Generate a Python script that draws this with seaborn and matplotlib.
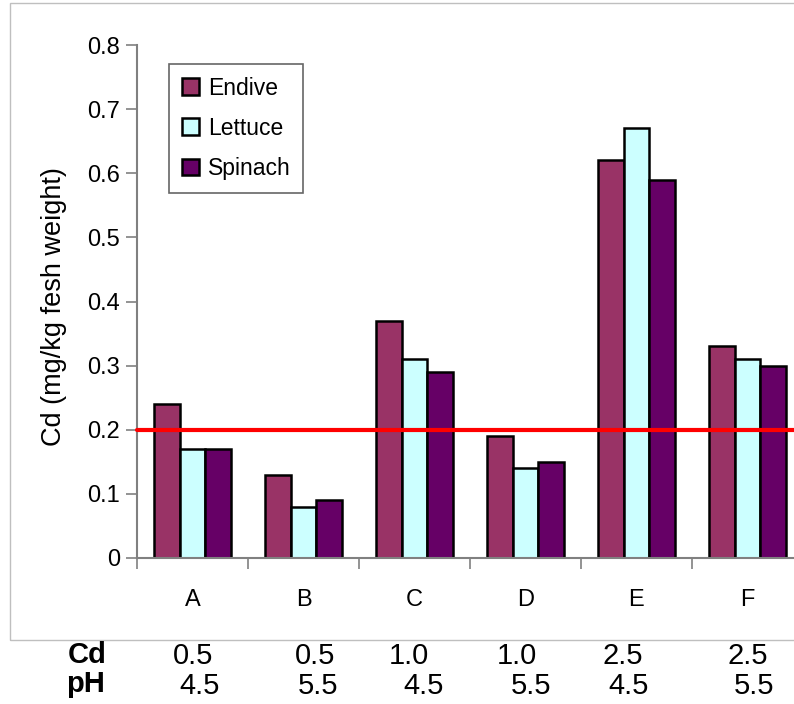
import matplotlib
matplotlib.use("Agg")
import matplotlib.pyplot as plt
import seaborn as sns
import pandas as pd
from matplotlib.patches import Rectangle, Patch

categories = ["A", "B", "C", "D", "E", "F"]
endive = [0.24, 0.13, 0.37, 0.19, 0.62, 0.33]
lettuce = [0.17, 0.08, 0.31, 0.14, 0.67, 0.31]
spinach = [0.17, 0.09, 0.29, 0.15, 0.59, 0.30]
series_names = ["Endive", "Lettuce", "Spinach"]
colors = ["#993366", "#CCFFFF", "#660066"]
threshold = 0.2
cd_values = ["0.5", "0.5", "1.0", "1.0", "2.5", "2.5"]
ph_values = ["4.5", "5.5", "4.5", "5.5", "4.5", "5.5"]
yticks = [0, 0.1, 0.2, 0.3, 0.4, 0.5, 0.6, 0.7, 0.8]
ytick_labels = ["0", "0.1", "0.2", "0.3", "0.4", "0.5", "0.6", "0.7", "0.8"]

rows = []
for name, vals in zip(series_names, [endive, lettuce, spinach]):
    for c, v in zip(categories, vals):
        rows.append({"cat": c, "series": name, "value": v})
df = pd.DataFrame(rows)

sns.set_style("white")
plt.rcParams["font.family"] = ["Liberation Sans", "DejaVu Sans"]
plt.rcParams["text.color"] = "black"
plt.rcParams["axes.labelcolor"] = "black"
plt.rcParams["xtick.color"] = "black"
plt.rcParams["ytick.color"] = "black"

fig = plt.figure(figsize=(7.94, 7.04), dpi=100)
W, H = 794, 704
# outer frame
fig.patches.append(Rectangle((10 / W, 1 - 640 / H), 900 / W, (640 - 3) / H,
                             transform=fig.transFigure, fill=False,
                             edgecolor="#BFBFBF", linewidth=1.0))

left, right, top, bottom = 137, 803, 45, 558
ax = fig.add_axes([left / W, 1 - bottom / H, (right - left) / W, (bottom - top) / H])

sns.barplot(data=df, x="cat", y="value", hue="series", palette=colors,
            width=0.7, gap=0, edgecolor="black", linewidth=1.8,
            saturation=1, ax=ax, legend=False)

ax.axhline(threshold, color="#FF0000", linewidth=3, zorder=5, clip_on=False)

ax.set_xlim(-0.5, 5.5)
ax.set_ylim(0, 0.8)
ax.set_yticks(yticks)
ax.set_yticklabels(ytick_labels, fontsize=17)
ax.set_xticks(range(len(categories)))
ax.set_xticklabels(categories, fontsize=17)
ax.set_xticks([i - 0.5 for i in range(len(categories) + 1)], minor=True)
ax.tick_params(axis="x", which="major", bottom=False, length=0, pad=22,
               labelcolor="black")
ax.tick_params(axis="x", which="minor", bottom=True, length=8, width=1.2,
               color="#808080", direction="out")
ax.tick_params(axis="y", which="major", left=True, length=8, width=1.2,
               color="#808080", labelcolor="black", direction="out", pad=4)
ax.set_xlabel("")
ax.set_ylabel("Cd (mg/kg fesh weight)", fontsize=19.5, color="black")
ax.yaxis.set_label_coords(-0.1045, 0.49)

for s in ["top", "right"]:
    ax.spines[s].set_visible(False)
for s in ["left", "bottom"]:
    ax.spines[s].set_color("#808080")
    ax.spines[s].set_linewidth(1.5)

handles = [Patch(facecolor=c, edgecolor="black", linewidth=1.8) for c in colors]
leg = fig.legend(handles, series_names, loc="upper left",
                 bbox_to_anchor=(169 / W, 1 - 64 / H), fontsize=16.5,
                 frameon=True, fancybox=False, handlelength=0.75, handleheight=0.75,
                 handletextpad=0.4, labelspacing=0.75, borderpad=0.55,
                 borderaxespad=0)
leg.get_frame().set_edgecolor("#404040")
leg.get_frame().set_linewidth(1.2)

fs = 21
fig.text(87 / W, 1 - 655 / H, "Cd", fontsize=fs, fontweight="bold",
         ha="center", va="center")
fig.text(86 / W, 1 - 684 / H, "pH", fontsize=fs, fontweight="bold",
         ha="center", va="center")
cd_x = [193.5, 315, 409, 517, 623, 747.5]
ph_x = [200, 318, 424, 531, 629, 754]
for x, t in zip(cd_x, cd_values):
    fig.text(x / W, 1 - 655.5 / H, t, fontsize=fs, ha="center", va="center")
for x, t in zip(ph_x, ph_values):
    fig.text(x / W, 1 - 686 / H, t, fontsize=fs, ha="center", va="center")

fig.savefig("out.png", dpi=100)
